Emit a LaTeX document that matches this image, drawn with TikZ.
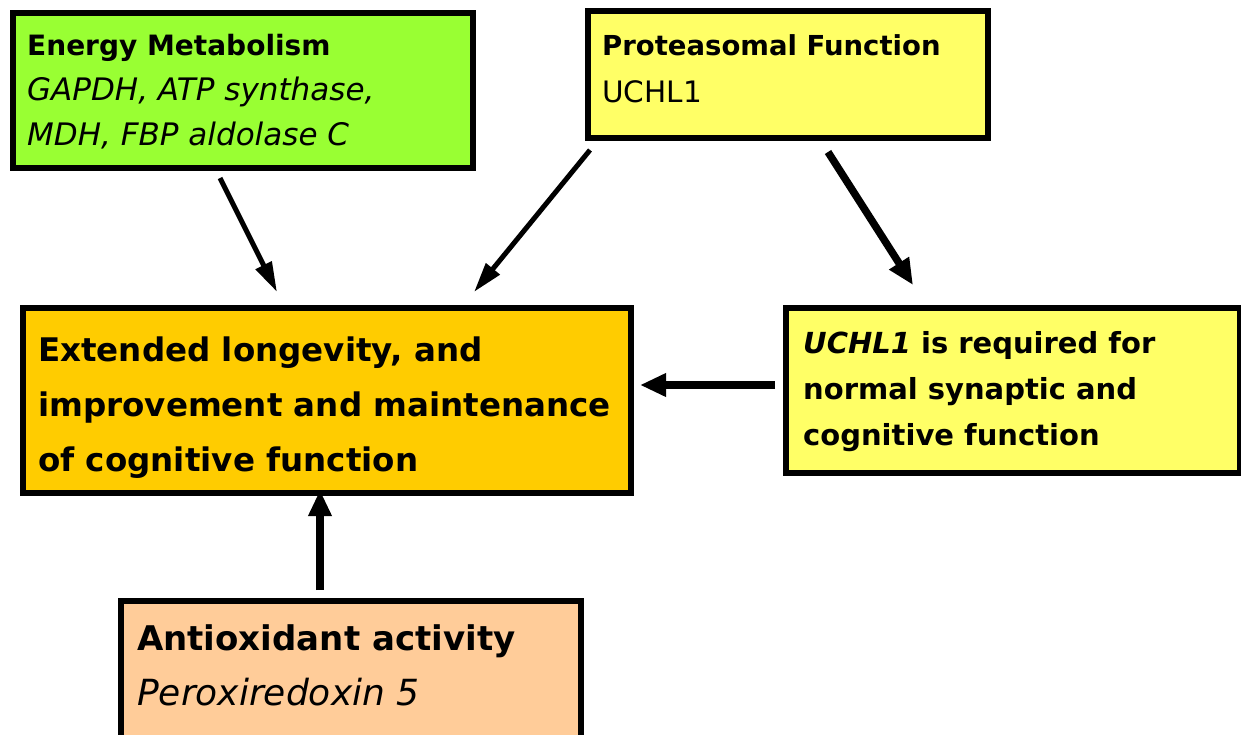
\documentclass[tikz,border=0pt]{standalone}
\usepackage{fontspec}
\setmainfont{DejaVu Sans}
\usetikzlibrary{arrows.meta}
\definecolor{leafgreen}{RGB}{153,255,51}
\definecolor{paleyellow}{RGB}{255,255,102}
\definecolor{goldbox}{RGB}{255,204,0}
\definecolor{peach}{RGB}{255,204,153}
\tikzset{
  panel/.style={draw=black, line width=6pt, rectangle, inner sep=0pt, anchor=north west},
  txt/.style={anchor=base west, inner sep=0pt, align=left},
  link/.style={line width=5pt, -{Triangle[length=30pt,width=17pt]}},
  thicklink/.style={line width=7.5pt, -{Triangle[length=26pt,width=22pt]}},
}
\begin{document}
\begin{tikzpicture}[x=1pt,y=-1pt]
\useasboundingbox (0,0) rectangle (1241,734);
% boxes
\node[panel, fill=leafgreen, minimum width=460pt, minimum height=155pt] (energy) at (10,10) {};
\node[panel, fill=paleyellow, minimum width=400pt, minimum height=127pt] (prot) at (585,8) {};
\node[panel, fill=goldbox, minimum width=608pt, minimum height=185pt] (main) at (20,305) {};
\node[panel, fill=paleyellow, minimum width=454pt, minimum height=165pt] (uchl) at (783,305) {};
\node[panel, fill=peach, minimum width=460pt, minimum height=150pt] (anti) at (118,598) {};
% texts
\node[txt, font=\fontsize{28}{32}\selectfont\bfseries] (t1) at (27,55) {Energy Metabolism};
\node[txt, font=\fontsize{31}{36}\selectfont\itshape] (t2) at (27,100) {GAPDH, ATP synthase,};
\node[txt, font=\fontsize{31}{36}\selectfont\itshape] (t3) at (27,145) {MDH, FBP aldolase C};
\node[txt, font=\fontsize{27.5}{32}\selectfont\bfseries] (t4) at (602,55) {Proteasomal Function};
\node[txt, font=\fontsize{29.5}{34}\selectfont] (t5) at (602,102) {UCHL1};
\node[txt, font=\fontsize{32.5}{40}\selectfont\bfseries] (t6) at (38,361) {Extended longevity, and};
\node[txt, font=\fontsize{32.5}{40}\selectfont\bfseries] (t7) at (38,416) {improvement and maintenance};
\node[txt, font=\fontsize{32.5}{40}\selectfont\bfseries] (t8) at (38,471) {of cognitive function};
\node[txt, font=\fontsize{29}{34}\selectfont\bfseries] (t9) at (803,353) {\textit{UCHL1} is required for};
\node[txt, font=\fontsize{29}{34}\selectfont\bfseries] (t10) at (803,399) {normal synaptic and};
\node[txt, font=\fontsize{29}{34}\selectfont\bfseries] (t11) at (803,445) {cognitive function};
\node[txt, font=\fontsize{34}{40}\selectfont\bfseries] (t12) at (137,650) {Antioxidant activity};
\node[txt, font=\fontsize{36}{42}\selectfont\itshape] (t13) at (137,705) {Peroxiredoxin 5};
% connector end points
\coordinate (a1s) at (220,178);
\coordinate (a1e) at (277,292);
\coordinate (a2s) at (590,150);
\coordinate (a2e) at (474,292);
\coordinate (a3s) at (828,152);
\coordinate (a3e) at (913,285);
\coordinate (a4s) at (775,385);
\coordinate (a4e) at (640,385);
\coordinate (a5s) at (320,590);
\coordinate (a5e) at (320,490);
% connectors
\draw[link] (a1s) -- (a1e);
\draw[link] (a2s) -- (a2e);
\draw[thicklink] (a3s) -- (a3e);
\draw[thicklink] (a4s) -- (a4e);
\draw[thicklink] (a5s) -- (a5e);
\end{tikzpicture}
\end{document}
